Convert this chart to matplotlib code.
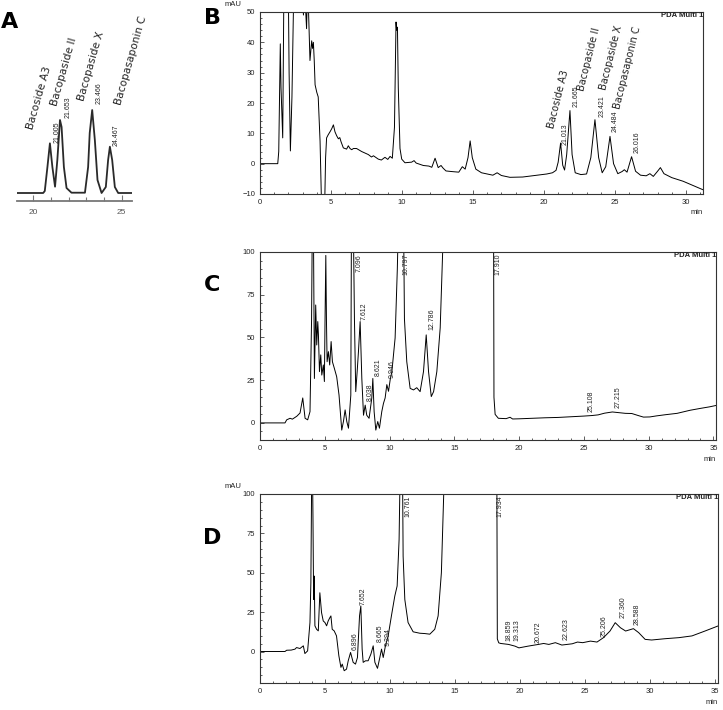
import matplotlib
matplotlib.use('Agg')
import matplotlib.pyplot as plt
import matplotlib.ticker as mticker

# ---- data (time in min, signal in mAU) ----
# panel A: standard mix, y in arbitrary units above baseline
a_trace = [(19.08, 0), (20.56, 0), (20.65, 2), (20.80, 26), (20.94, 49.7), (21.08, 26),
           (21.23, 6.3), (21.36, 33), (21.51, 73), (21.60, 66), (21.73, 26), (21.88, 5),
           (22.16, 0.3), (22.92, 0.3), (23.10, 26), (23.19, 60), (23.33, 83), (23.48, 53),
           (23.63, 13), (23.86, 0), (24.10, 6), (24.23, 33), (24.33, 46.3), (24.46, 33),
           (24.61, 6), (24.80, 0), (25.58, 0)]
a_names = ['Bacoside A3', 'Bacopaside II', 'Bacopaside X', 'Bacopasaponin C']
a_name_pos = [(20.35, 95.5), (21.73, 121.5), (23.29, 126.5), (25.52, 133)]
a_rt = ['21.005', '21.653', '23.466', '24.467']
a_rt_pos = [(21.37, 60.5), (21.96, 85.5), (23.71, 99.5), (24.67, 58)]

# panel B: extract
b_trace = [(0.0, 0), (1.25, 0), (1.32, 4), (1.43, 39.5), (1.48, 25), (1.60, 8.5), (1.72, 80),
           (1.95, 80), (2.05, 30), (2.14, 4.2), (2.25, 22), (2.46, 80), (2.90, 80), (2.98, 55),
           (3.06, 49), (3.12, 58), (3.20, 52), (3.28, 44.5), (3.34, 58), (3.42, 50), (3.52, 34),
           (3.64, 40.5), (3.70, 38), (3.76, 40), (3.82, 34), (3.88, 26), (4.00, 23.5), (4.10, 22),
           (4.23, 7.4), (4.34, -15), (4.55, -15), (4.62, 2), (4.69, 8.5), (4.80, 9.5), (4.93, 10.5),
           (5.05, 11.5), (5.17, 12.8), (5.28, 10.5), (5.40, 9.2), (5.52, 8.2), (5.62, 8.6),
           (5.71, 7.2), (5.87, 5.2), (6.10, 4.8), (6.22, 5.9), (6.34, 5.0), (6.46, 4.6), (6.58, 5.0),
           (6.80, 5.0), (7.16, 4.0), (7.63, 3.0), (7.85, 2.2), (7.99, 2.6), (8.33, 1.5), (8.55, 1.2),
           (8.80, 2.1), (9.00, 1.4), (9.16, 2.4), (9.32, 1.8), (9.47, 12), (9.58, 46.7), (9.62, 44),
           (9.68, 45), (9.74, 25), (9.86, 5), (9.98, 1.5), (10.21, 0.3), (10.68, 0.5), (10.85, 1.0),
           (11.0, 0.2), (11.5, -0.6), (11.9, -0.8), (12.1, -1.2), (12.33, 1.8), (12.55, -1.3),
           (12.75, -0.6), (12.9, -1.5), (13.1, -2.4), (13.5, -2.6), (14.0, -2.8), (14.25, -1.0),
           (14.45, -1.8), (14.65, 2), (14.80, 7.5), (14.95, 2), (15.2, -1.8), (15.6, -3.0),
           (16.0, -3.4), (16.4, -3.8), (16.7, -3.0), (17.0, -3.9), (17.6, -4.5), (18.5, -4.4),
           (19.5, -3.8), (20.2, -3.4), (20.6, -3.0), (20.85, -2.2), (21.0, 0.5), (21.17, 6.8),
           (21.32, -0.5), (21.45, -2.1), (21.6, 3), (21.83, 17.5), (21.98, 3), (22.2, -3),
           (22.6, -3.6), (23.0, -3.4), (23.3, 2), (23.59, 14.5), (23.85, 2), (24.1, -3.0),
           (24.35, -1), (24.65, 9.0), (24.9, 0), (25.2, -3.3), (25.5, -2.6), (25.66, -2.0),
           (25.85, -2.8), (26.17, 2.3), (26.45, -2.5), (26.8, -3.8), (27.2, -4.0), (27.46, -3.3),
           (27.7, -4.2), (28.0, -2.5), (28.2, -1.3), (28.45, -3.3), (29.0, -4.6), (29.8, -5.8),
           (30.5, -7.2), (31.2, -8.6)]
b_names = a_names
b_name_pos = [(21.02, 21.3), (23.2, 34.5), (24.72, 35.0), (25.85, 31.5)]
b_rt = ['21.013', '21.665', '23.421', '24.484', '26.016']
b_rt_pos = [(21.48, 9.6), (22.25, 22.2), (24.08, 19.0), (25.0, 13.9), (26.55, 7.0)]

# panel C
c_trace = [(0, 0), (1.93, 0), (2.06, 1.8), (2.32, 2.7), (2.5, 2.2), (2.84, 3.9), (3.09, 5.8),
           (3.3, 14.6), (3.48, 2.7), (3.68, 1.8), (3.86, 6.6), (3.98, 60), (4.04, 120), (4.12, 120),
           (4.2, 26), (4.3, 69), (4.38, 45.6), (4.46, 59.3), (4.51, 51.5), (4.59, 30), (4.69, 39.8),
           (4.77, 28), (4.89, 33.9), (4.97, 24.2), (5.02, 60), (5.08, 98), (5.13, 60), (5.18, 35.8),
           (5.28, 41.7), (5.38, 33.9), (5.49, 47.6), (5.59, 35.8), (5.74, 31.9), (5.92, 27),
           (6.1, 16.3), (6.31, -4.2), (6.44, 0.8), (6.57, 7.6), (6.7, 0.8), (6.83, -3.1),
           (7.01, 16.3), (7.06, 120), (7.2, 120), (7.29, 60.8), (7.39, 18.3), (7.5, 30), (7.6, 41.7),
           (7.73, 59.3), (7.86, 26), (7.99, 4.5), (8.12, 10.4), (8.24, 4.5), (8.42, 2.7),
           (8.63, 14.6), (8.71, 26), (8.81, 6.6), (8.94, -4.2), (9.09, 0.8), (9.22, -3.1), (9.4, 6.6),
           (9.53, 11.4), (9.66, 14.6), (9.79, 22.4), (9.92, 18.5), (10.05, 25.3), (10.18, 30),
           (10.43, 49.7), (10.6, 90), (10.69, 120), (11.08, 120), (11.15, 60.8), (11.33, 35.8),
           (11.59, 20.2), (11.85, 19.3), (12.1, 20.6), (12.36, 18.3), (12.62, 30), (12.83, 51.5),
           (13.01, 30), (13.22, 15.4), (13.4, 18.3), (13.65, 30), (13.91, 55.6), (14.1, 100),
           (14.17, 120), (18.03, 120), (18.06, 15), (18.15, 5), (18.4, 2.7), (19.0, 2.5), (19.3, 3.3),
           (19.5, 2.3), (20.0, 2.4), (21, 2.7), (22, 3.0), (23, 3.2), (24, 3.6), (25, 4.0),
           (25.6, 4.3), (26.1, 4.7), (26.6, 5.7), (27.2, 6.4), (27.7, 6.0), (28.2, 5.6), (28.7, 5.5),
           (29.2, 4.3), (29.6, 3.4), (30.1, 3.5), (30.6, 4.1), (31.3, 4.8), (32.2, 5.6), (33.2, 7.4),
           (34.0, 8.5), (34.7, 9.4), (35.2, 10.2)]
c_rt = ['7.096', '7.612', '8.038', '8.621', '9.946', '10.797', '12.786', '17.910', '25.108', '27.215']
c_rt_pos = [(7.67, 93.6), (8.06, 65.5), (8.50, 17.8), (9.13, 32.5), (10.2, 31.6), (11.26, 93.0),
            (13.29, 60.8), (18.35, 93.0), (25.56, 12.9), (27.68, 14.9)]

# panel D
d_trace = [(0, 0), (1.92, 0), (2.05, 0.8), (2.4, 0.9), (2.69, 1.5), (2.81, 2.5), (3.07, 1.9),
           (3.33, 3.6), (3.45, -1.3), (3.66, 0.4), (3.84, 18.4), (3.91, 43.7), (3.98, 120),
           (4.03, 120), (4.07, 85.9), (4.12, 33.1), (4.17, 47.9), (4.22, 16.3), (4.35, 14.1),
           (4.48, 13.1), (4.6, 37.3), (4.73, 24.7), (4.86, 19.4), (4.99, 18.4), (5.12, 16.3),
           (5.24, 19.4), (5.37, 21.5), (5.45, 22.6), (5.55, 14.1), (5.7, 13.1), (5.88, 9.9),
           (6.06, -2.7), (6.22, -10.1), (6.32, -8.0), (6.47, -12.2), (6.65, -11.2), (6.78, -5.9),
           (6.96, -0.6), (7.16, -6.9), (7.34, -8.0), (7.49, -3.8), (7.65, 22.6), (7.75, 28.9),
           (7.85, 1.5), (7.93, -6.9), (8.11, -5.9), (8.31, -5.9), (8.52, -1.7), (8.7, 3.6),
           (8.83, -6.9), (9.03, -10.7), (9.21, -3.8), (9.34, 1.5), (9.47, -3.8), (9.64, 3.6),
           (9.85, 9.9), (10.1, 22.6), (10.36, 35.2), (10.54, 41.6), (10.69, 71), (10.78, 120),
           (10.95, 120), (11.0, 60.5), (11.13, 33), (11.38, 18.4), (11.77, 12.5), (12.28, 11.6),
           (12.66, 11.4), (13.05, 11), (13.43, 14.1), (13.69, 22.6), (13.94, 50), (14.12, 100),
           (14.15, 120), (18.2, 120), (18.24, 8), (18.35, 5.5), (18.5, 5.1), (19.1, 4.5), (19.6, 3.4),
           (19.9, 2.3), (20.6, 3.4), (21.4, 4.5), (21.8, 5.1), (22.2, 4.5), (22.7, 5.6), (23.2, 4.1),
           (24.0, 4.9), (24.4, 6.0), (24.8, 5.6), (25.4, 6.6), (25.9, 6.0), (26.4, 8.8), (26.9, 13),
           (27.3, 18.3), (27.7, 15.1), (28.1, 13), (28.7, 14.5), (29.1, 12), (29.6, 7.7), (30.1, 7.3),
           (31.1, 8.1), (32.2, 8.8), (33.2, 9.9), (34.2, 13), (35.2, 16.2)]
d_rt = ['6.896', '7.652', '8.665', '9.294', '10.761', '17.934', '18.859', '19.313', '20.672',
        '22.623', '25.206', '27.360', '28.588']
d_rt_pos = [(7.29, 6.4), (7.93, 35.4), (9.21, 11.4), (9.85, 9.2), (11.38, 92.0), (18.47, 92.0),
            (19.15, 13.3), (19.72, 13.3), (21.36, 12.0), (23.53, 14.0), (26.43, 16.0), (27.88, 28.2),
            (29.0, 23.4)]

plt.rcParams['font.family'] = ['Liberation Sans', 'DejaVu Sans']
W, H = 723, 710


def px_axes(fig, left, top, right, bottom):
    return fig.add_axes([left / W, (H - bottom) / H, (right - left) / W, (bottom - top) / H])


def style_chrom(ax, xlim, ylim, yticks, yminor):
    ax.set_xlim(*xlim)
    ax.set_ylim(*ylim)
    ax.set_xticks([0, 5, 10, 15, 20, 25, 30, 35][:int(xlim[1] // 5) + 1])
    ax.xaxis.set_minor_locator(mticker.MultipleLocator(1))
    ax.set_yticks(yticks)
    ax.yaxis.set_minor_locator(mticker.MultipleLocator(yminor))
    ax.tick_params(which='both', direction='in', colors='#444444', labelcolor='#222222',
                   labelsize=5.5, width=0.6)
    ax.tick_params(which='major', length=3, pad=3.5)
    ax.tick_params(which='minor', length=1.6)
    for s in ax.spines.values():
        s.set_linewidth(0.8)
        s.set_color('#333333')
    ax.text(1.0, 1.0, 'PDA Multi 1', transform=ax.transAxes, ha='right', va='top',
            fontsize=5.5, color='#222222', fontweight='bold')
    ax.text(1.0, -0.085, 'min', transform=ax.transAxes, ha='right', va='top',
            fontsize=5.5, color='#222222')


def rt_labels(ax, labels, pos):
    for lab, (x, y) in zip(labels, pos):
        ax.text(x, y, lab, rotation=90, ha='center', va='center', fontsize=5, color='#222222',
                clip_on=False)


fig = plt.figure(figsize=(W / 100, H / 100), dpi=100)

# ---- A ----
axA = px_axes(fig, 17, 5, 132, 201)
t, v = zip(*a_trace)
axA.plot(t, v, color='#2a2a2a', lw=1.3)
axA.set_xlim(19.08, 25.58)
axA.set_ylim(-8, 188)
for s in ['left', 'right', 'top']:
    axA.spines[s].set_visible(False)
axA.spines['bottom'].set_color('#777777')
axA.spines['bottom'].set_linewidth(1.3)
axA.set_yticks([])
axA.set_xticks([20, 25])
axA.xaxis.set_minor_locator(mticker.MultipleLocator(1))
axA.tick_params(which='both', direction='in', colors='#777777', labelcolor='#555555',
                labelsize=6, width=0.8, pad=6)
axA.tick_params(which='major', length=4)
axA.tick_params(which='minor', length=3)
for name, (x, y) in zip(a_names, a_name_pos):
    axA.text(x, y, name, rotation=74, ha='center', va='center', fontsize=7.6,
             family='DejaVu Sans', color='#222222', clip_on=False, rotation_mode='anchor')
rt_labels(axA, a_rt, a_rt_pos)

# ---- B ----
axB = px_axes(fig, 260, 12, 703, 194)
t, v = zip(*b_trace)
axB.plot(t, v, color='black', lw=0.7)
style_chrom(axB, (0, 31.2), (-10, 50), [-10, 0, 10, 20, 30, 40, 50], 2)
axB.set_xticks([0, 5, 10, 15, 20, 25, 30])
for name, (x, y) in zip(b_names, b_name_pos):
    axB.text(x, y, name, rotation=76, ha='center', va='center', fontsize=7,
             family='DejaVu Sans', color='#222222', clip_on=False, rotation_mode='anchor')
rt_labels(axB, b_rt, b_rt_pos)

# ---- C ----
axC = px_axes(fig, 260, 252, 716, 440)
t, v = zip(*c_trace)
axC.plot(t, v, color='black', lw=0.7)
style_chrom(axC, (0, 35.2), (-10, 100), [0, 25, 50, 75, 100], 5)
rt_labels(axC, c_rt, c_rt_pos)

# ---- D ----
axD = px_axes(fig, 260, 494, 718, 683)
t, v = zip(*d_trace)
axD.plot(t, v, color='black', lw=0.7)
style_chrom(axD, (0, 35.2), (-20, 100), [0, 25, 50, 75, 100], 5)
rt_labels(axD, d_rt, d_rt_pos)

fig.text(225 / W, (H - 5) / H, 'mAU', fontsize=5.5, color='#222222', va='center')
fig.text(225 / W, (H - 487) / H, 'mAU', fontsize=5.5, color='#222222', va='center')

for letter, (x, y) in zip('ABCD', [(10, 22), (212, 18), (212, 285), (212, 538)]):
    fig.text(x / W, (H - y) / H, letter, fontsize=16, fontweight='bold', ha='center',
             va='center', family='DejaVu Sans')

fig.savefig('out.png', dpi=100)
